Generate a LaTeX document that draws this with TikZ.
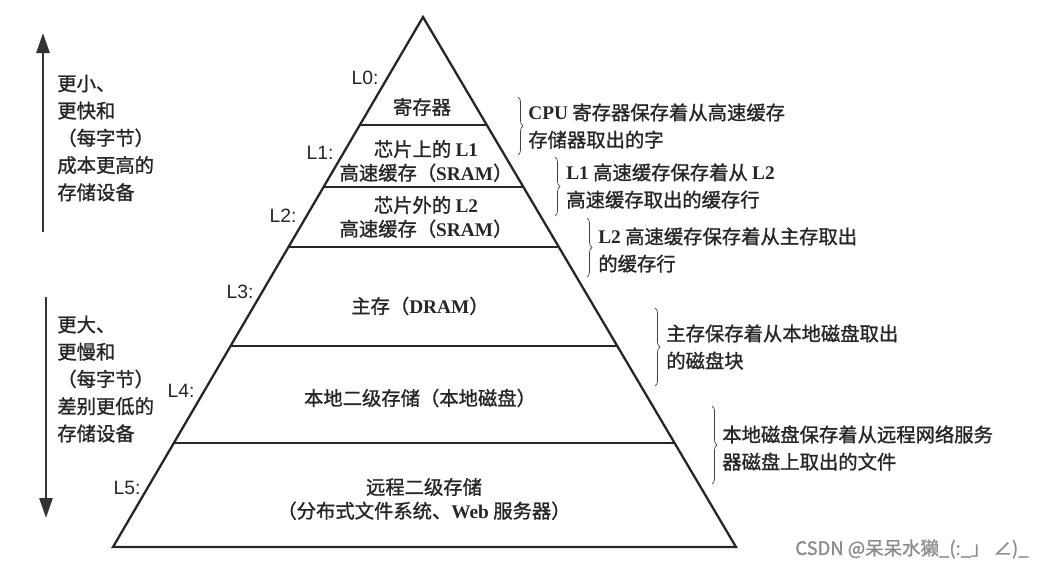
\documentclass[tikz,border=0pt]{standalone}
\usepackage{fontspec}
\setmainfont{Noto Sans CJK SC}[FakeBold=1.2]
\newfontfamily\latinrm{Liberation Serif}
\newfontfamily\lvlfont{Liberation Sans}
\usetikzlibrary{arrows.meta,calc,decorations.pathreplacing}
\newcommand{\entxt}[1]{{\latinrm\bfseries #1}}
\tikzset{
  pyrline/.style  = {line width=1.3pt, black!85},
  lvllabel/.style = {font=\lvlfont\fontsize{11}{13}\selectfont, black!85, inner sep=1pt},
  tiertext/.style = {font=\fontsize{11}{13.5}\selectfont, align=center, black!85, inner sep=0pt},
  sidetext/.style = {font=\fontsize{11}{15.5}\selectfont, align=left, anchor=west, black!85, inner sep=0pt},
  bracept/.style  = {decorate, decoration={brace,amplitude=1mm}, thin, black!75},
  trendarr/.style = {-{Triangle[length=4mm,width=2.6mm]}, line width=1.6pt, black!80}
}

\begin{document}
\begin{tikzpicture}[x=0.02cm,y=-0.02cm]
  \useasboundingbox (0,0) rectangle (1046,569);
  % pyramid and tier boundaries
  \coordinate (apex) at (423,17);
  \coordinate (bl) at (113,547);
  \coordinate (br) at (736,547);
  \draw[pyrline] (bl) -- (apex) -- (br) -- cycle;
  \foreach \t in {0.2038,0.3208,0.4340,0.6208,0.8038}
    { \draw[pyrline] ($(apex)!\t!(bl)$) -- ($(apex)!\t!(br)$); }

  % tier contents
  \node[tiertext] (t0) at (422,107) {寄存器};
  \node[tiertext] (t1) at (426,161) {芯片上的 \entxt{L1}\\高速缓存（\entxt{SRAM}）};
  \node[tiertext] (t2) at (426,217) {芯片外的 \entxt{L2}\\高速缓存（\entxt{SRAM}）};
  \node[tiertext] (t3) at (420,306) {主存（\entxt{DRAM}）};
  \node[tiertext] (t4) at (420,398) {本地二级存储（本地磁盘）};
  \node[tiertext] (t5) at (424,499) {远程二级存储\\（分布式文件系统、\entxt{Web} 服务器）};

  % level labels
  \node[lvllabel] (l0) at (365,78)  {L0:};
  \node[lvllabel] (l1) at (320,153) {L1:};
  \node[lvllabel] (l2) at (283,216) {L2:};
  \node[lvllabel] (l3) at (240,292) {L3:};
  \node[lvllabel] (l4) at (181,391) {L4:};
  \node[lvllabel] (l5) at (127,488) {L5:};

  % trend arrows on the left
  \coordinate (uptop) at (43,33);
  \coordinate (upbot) at (43,232);
  \draw[trendarr] (upbot) -- (uptop);
  \node[sidetext] (faster) at (57,138) {更小、\\更快和\\（每字节）\\成本更高的\\存储设备};
  \coordinate (dntop) at (46,297);
  \coordinate (dnbot) at (46,518);
  \draw[trendarr] (dntop) -- (dnbot);
  \node[sidetext] (slower) at (57,379) {更大、\\更慢和\\（每字节）\\差别更低的\\存储设备};

  % notes with braces
  \node[sidetext] (n0) at (528,126) {\entxt{CPU} 寄存器保存着从高速缓存\\存储器取出的字};
  \draw[bracept] (n0.west) ++(-10,-29) -- ++(0,58);
  \node[sidetext] (n1) at (566,186) {\entxt{L1} 高速缓存保存着从 \entxt{L2}\\高速缓存取出的缓存行};
  \draw[bracept] (n1.west) ++(-11,-29) -- ++(0,59);
  \node[sidetext] (n2) at (598,250) {\entxt{L2} 高速缓存保存着从主存取出\\的缓存行};
  \draw[bracept] (n2.west) ++(-11,-32) -- ++(0,59);
  \node[sidetext] (n3) at (666,347) {主存保存着从本地磁盘取出\\的磁盘块};
  \draw[bracept] (n3.west) ++(-11,-39) -- ++(0,78);
  \node[sidetext] (n4) at (722,448) {本地磁盘保存着从远程网络服务\\器磁盘上取出的文件};
  \draw[bracept] (n4.west) ++(-10,-42) -- ++(0,78);

  \node[font=\fontsize{10.5}{12}\selectfont, text=black!45, anchor=west, inner sep=0pt]
    (mark) at (795,549) {CSDN @呆呆水獭\_(:\_」 ∠)\_};
\end{tikzpicture}
\end{document}
